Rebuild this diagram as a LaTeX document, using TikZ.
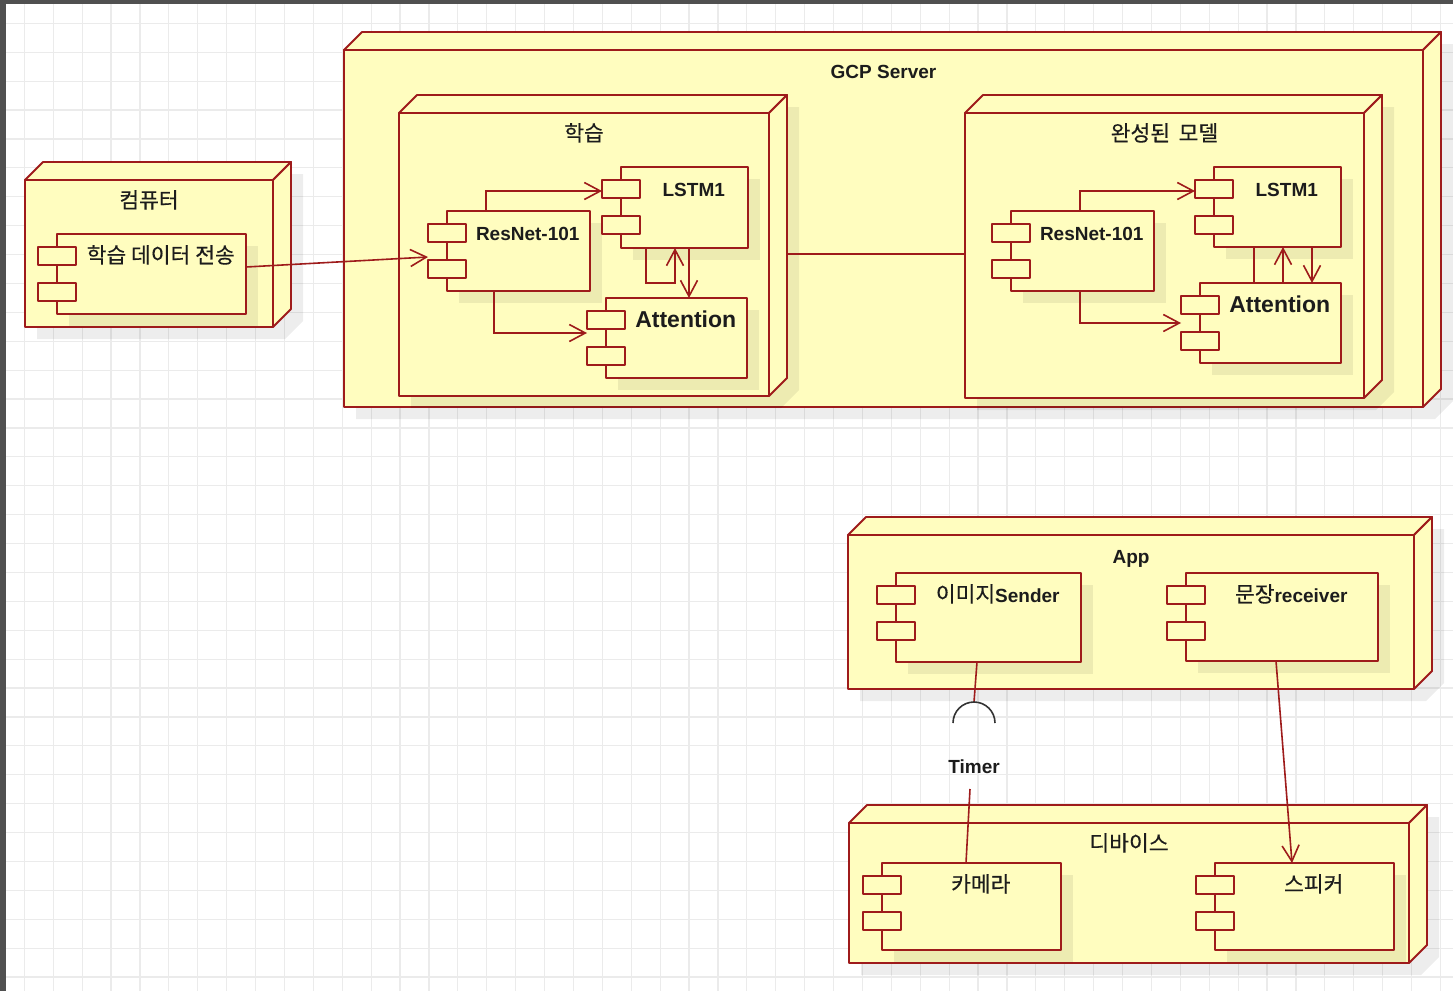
\documentclass[tikz,border=0pt]{standalone}
\usepackage{fontspec}
\setmainfont{Liberation Sans}
\newfontfamily\kr[FakeBold=0.4]{Noto Sans CJK KR}
\usetikzlibrary{arrows.meta,calc}
\definecolor{lc}{HTML}{9E1B1B}
\definecolor{yc}{HTML}{FFFDBF}
\definecolor{gc}{HTML}{EBEBEB}
\definecolor{fc}{HTML}{505050}
\definecolor{tc}{HTML}{1C1C1C}
\definecolor{sc}{HTML}{333333}
\newcommand\krt[1]{{\kr\mdseries\fontsize{21.5}{24}\selectfont #1}}
\tikzset{
  gridl/.style={draw=gc, line width=1.2pt},
  shad/.style={fill=black, fill opacity=0.07},
  nbox/.style={draw=lc, fill=yc, line width=1.9pt, inner sep=0pt, outer sep=0pt, line join=round},
  portbox/.style={nbox, minimum width=38, minimum height=18},
  nface/.style={draw=lc, fill=yc, line width=1.9pt, line join=round},
  ttl/.style={text=tc, inner sep=0pt, font=\bfseries\fontsize{19}{22}\selectfont},
  lbl/.style={text=tc, inner sep=0pt, anchor=base, font=\bfseries\fontsize{19}{22}\selectfont},
  conn/.style={draw=lc, line width=1.6pt},
  arr/.style={conn, -{Straight Barb[length=16pt,width=17pt]}},
  sockline/.style={draw=sc, line width=1.6pt}
}
% 3D deployment node: name, x1, y1, x2, y2 (front face), title
\newcommand\depnode[6]{%
  \fill[shad] ({#2+12},{#3+12}) -- ({#2+30},{#3-6}) -- ({#4+30},{#3-6}) -- ({#4+30},{#5-6}) -- ({#4+12},{#5+12}) -- ({#2+12},{#5+12}) -- cycle;
  \node[nbox, minimum width={#4-#2}, minimum height={#5-#3}] (#1) at ({(#2+#4)/2},{(#3+#5)/2}) {};
  \filldraw[nface] (#1.north west) -- ++(18,-18) -- ++({#4-#2},0) -- (#1.north east) -- cycle;
  \filldraw[nface] (#1.north east) -- ++(18,-18) -- ++(0,{#5-#3}) -- (#1.south east) -- cycle;
  \node[ttl, anchor=base] (#1t) at ([yshift=-28pt]#1.north) {#6};
}
% component: name, x1, y1, x2, y2 (main box), label
\newcommand\compo[6]{%
  \fill[shad] ({#2+12},{#3+12}) rectangle ({#4+12},{#5+12});
  \node[nbox, minimum width={#4-#2}, minimum height={#5-#3}] (#1) at ({(#2+#4)/2},{(#3+#5)/2}) {};
  \node[portbox] (#1p1) at (#2,{#3+22}) {};
  \node[portbox] (#1p2) at (#2,{#3+58}) {};
  \node[lbl] (#1l) at ({(#2+18.5+#4)/2},{#3+29}) {#6};
}
\begin{document}
\begin{tikzpicture}[x=1pt,y=-1pt]
\useasboundingbox (0,0) rectangle (1453,991);
\fill[white] (0,0) rectangle (1453,991);
\foreach \i in {0,...,49} \draw[gridl] ({24.3+28.9*\i},0) -- ({24.3+28.9*\i},991);
\foreach \j in {0,...,33} \draw[gridl] (0,{23.3+28.9*\j}) -- (1453,{23.3+28.9*\j});
\fill[fc] (0,0) rectangle (6,991);
\fill[fc] (0,0) rectangle (1453,4);

% computer
\depnode{pc}{25}{180}{273}{327}{\krt{컴퓨터}}
\compo{data}{57}{234}{246}{314}{\krt{학습 데이터 전송}}

% GCP server
\depnode{gcp}{344}{50}{1423}{407}{GCP Server}
\depnode{learn}{399}{113}{769}{396}{\krt{학습}}
\depnode{model}{965}{113}{1364}{398}{\krt{완성된\hspace{0.4em}모델}}
\compo{resA}{447}{211}{590}{291}{ResNet-101}
\compo{lstmA}{621}{167}{748}{248}{LSTM1}
\compo{attA}{606}{298}{747}{378}{\fontsize{23}{26}\selectfont Attention}
\compo{resB}{1011}{211}{1154}{291}{ResNet-101}
\compo{lstmB}{1214}{167}{1341}{247}{LSTM1}
\compo{attB}{1200}{283}{1341}{363}{\fontsize{23}{26}\selectfont Attention}

% App
\depnode{app}{848}{535}{1414}{689}{App}
\compo{sender}{896}{573}{1081}{662}{\krt{이미지}Sender}
\compo{recv}{1186}{573}{1378}{661}{\krt{문장}receiver}

% Device
\depnode{dev}{849}{823}{1409}{963}{\krt{디바이스}}
\compo{cam}{882}{863}{1061}{950}{\krt{카메라}}
\compo{spk}{1215}{863}{1394}{950}{\krt{스피커}}

% connectors
\draw[arr] ([yshift=7pt]data.east) -- ([yshift=3pt]resAp2.north west);
\draw[conn] ([xshift=18pt,yshift=0.5pt]learn.east) -- ([yshift=0.5pt]learn.east -| model.west);

\draw[arr] ([xshift=-32.5pt]resA.north) |- ([yshift=-2pt]lstmAp1.west);
\draw[arr] ([xshift=-24.5pt]resA.south) |- ([yshift=-4pt]attAp1.south west);
\draw[arr] ([xshift=-38.5pt]lstmA.south) |- ([xshift=-9.5pt,yshift=-35pt]lstmA.south) -- ([xshift=-9.5pt]lstmA.south);
\draw[arr] ([xshift=4.5pt]lstmA.south) -- ([xshift=4.5pt]lstmA.south |- attA.north);

\draw[arr] ([xshift=-2.5pt]resB.north) |- ([yshift=-2pt]lstmBp1.west);
\draw[arr] ([xshift=-2.5pt]resB.south) |- ([yshift=-9pt]attBp1.south west);
\draw[arr] ([xshift=-23.5pt]lstmB.south) |- ([xshift=5.5pt]lstmB.south |- attB.north) -- ([xshift=5.5pt]lstmB.south);
\draw[arr] ([xshift=34.5pt]lstmB.south) -- ([xshift=34.5pt]lstmB.south |- attB.north);

% Timer interface
\coordinate (sock) at (974,702);
\draw[conn] ([xshift=-11.5pt]sender.south) -- (sock);
\draw[sockline] (953,723) arc[start angle=180, end angle=360, radius=21];
\node[lbl] (timer) at (974,773) {Timer};
\coordinate (timerfoot) at (970,789);
\draw[conn] (timerfoot) -- ([xshift=-5.5pt]cam.north);

\draw[arr] ([xshift=-6pt]recv.south) -- ([xshift=-12.5pt]spk.north);
\end{tikzpicture}
\end{document}
